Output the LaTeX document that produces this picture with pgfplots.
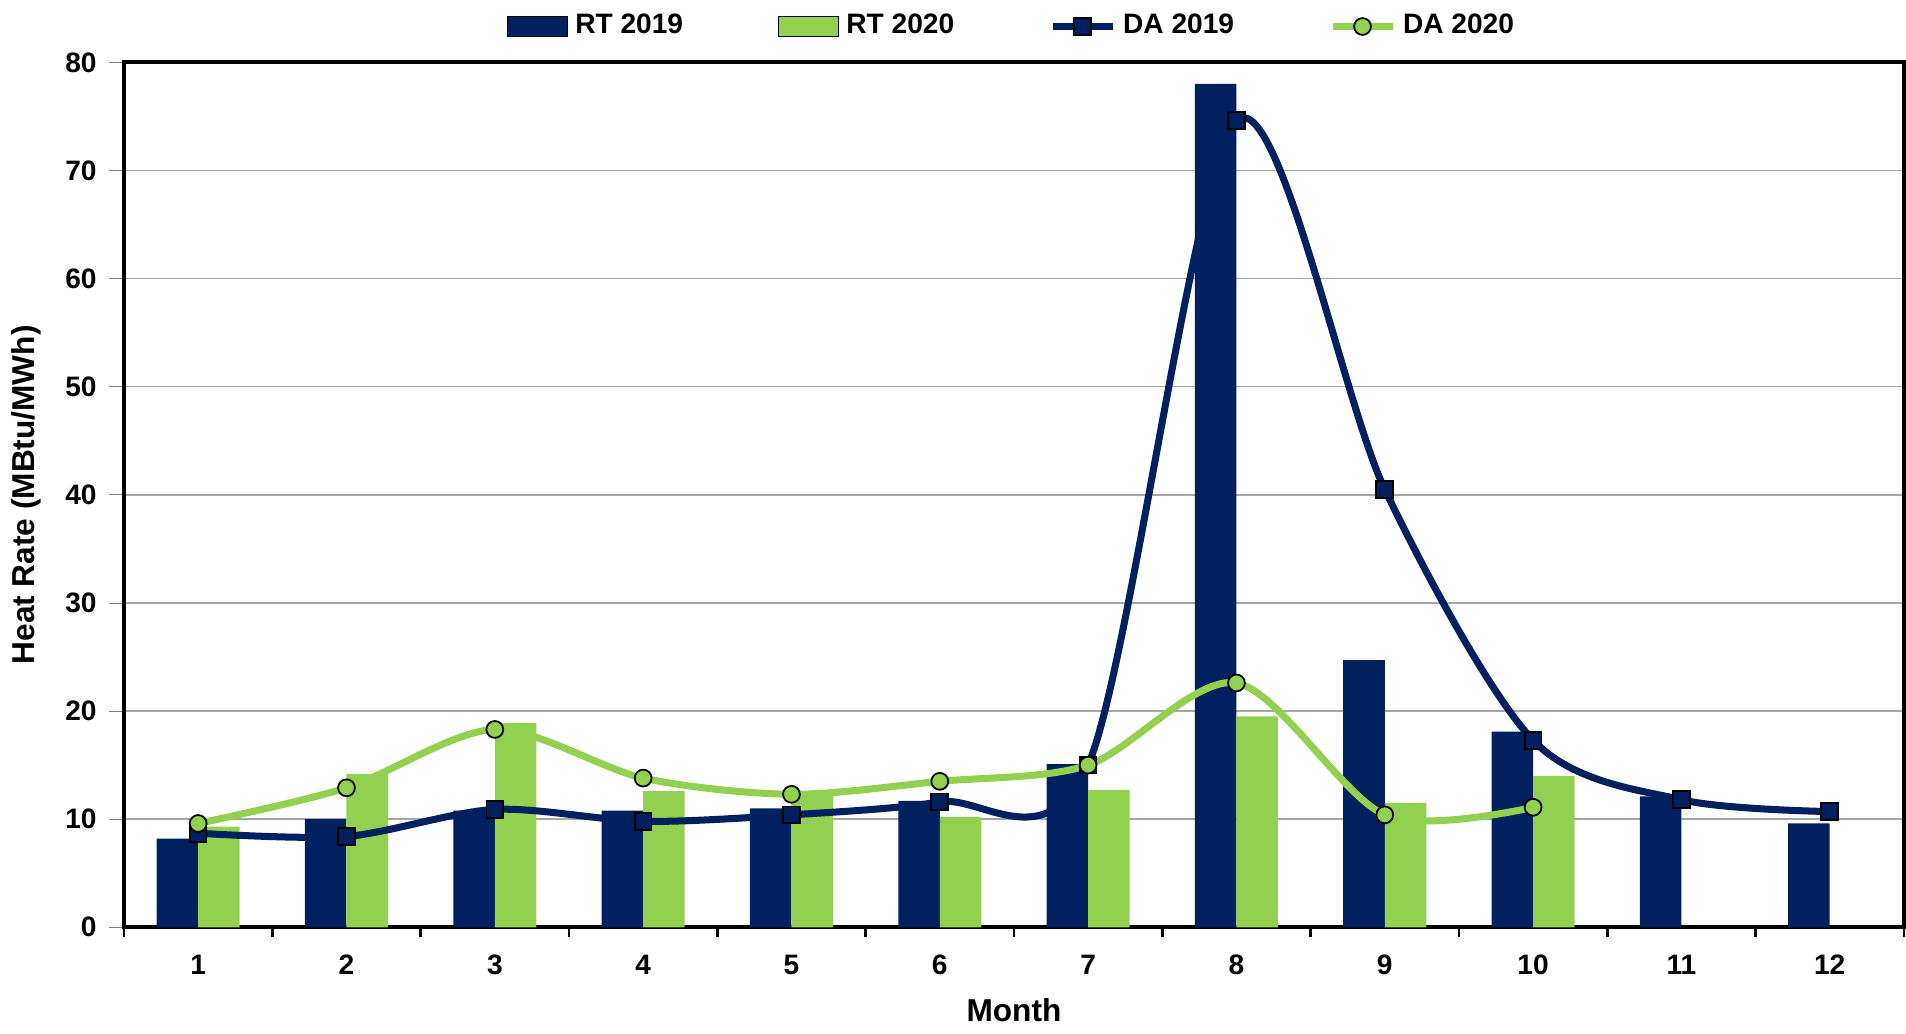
\documentclass[border=0pt]{standalone}
\usepackage{pgfplots}
\pgfplotsset{compat=1.18}
\usepackage{fontspec}
\setmainfont{Liberation Sans}
\definecolor{navy}{RGB}{0,32,96}
\definecolor{lgreen}{RGB}{146,208,80}
\begin{document}
\begin{tikzpicture}
\begin{axis}[
  scale only axis, width=17.8cm, height=8.65cm,
  xmin=0.5, xmax=12.5, ymin=0, ymax=80,
  xtick={1,...,12}, minor xtick={0.5,1.5,...,12.5},
  major x tick style={draw=none},
  minor x tick style={black,thick},
  ytick={0,10,...,80},
  tick align=outside, tick pos=left,
  ymajorgrids, grid style={gray!70,thin},
  axis line style={black,line width=1.2pt},
  ticklabel style={font=\bfseries\footnotesize},
  /pgf/number format/assume math mode=true,
  xlabel={\bfseries Month}, ylabel={\bfseries Heat Rate (MBtu/MWh)},
  label style={font=\bfseries\small},
  xlabel style={yshift=0pt},
  legend style={at={(0.5,1.01)},anchor=south,draw=none,legend columns=4,font=\bfseries\footnotesize,
    /tikz/every even column/.append style={column sep=25pt}},
  legend cell align=left,
]
\addplot[ybar,bar width=0.28,bar shift=-0.14,fill=navy,draw=none,area legend] coordinates {
(1,8.2)(2,10.0)(3,10.8)(4,10.8)(5,11.0)(6,11.7)(7,15.1)(8,78)(9,24.7)(10,18.1)(11,12.1)(12,9.6)};
\addlegendentry{RT 2019}
\addplot[ybar,bar width=0.28,bar shift=0.14,fill=lgreen,draw=none,area legend] coordinates {
(1,9.3)(2,14.2)(3,18.9)(4,12.6)(5,12.3)(6,10.2)(7,12.7)(8,19.5)(9,11.5)(10,14.0)};
\addlegendentry{RT 2020}
\addplot[navy,line width=2pt,smooth,tension=0.5,mark=square*,mark options={fill=navy,draw=black,line width=0.5pt,scale=1.2}] coordinates {
(1,8.7)(2,8.4)(3,10.9)(4,9.8)(5,10.4)(6,11.6)(7,15.0)(8,74.6)(9,40.5)(10,17.3)(11,11.8)(12,10.7)};
\addlegendentry{DA 2019}
\addplot[lgreen,line width=2pt,smooth,tension=0.5,mark=*,mark options={fill=lgreen,draw=black,line width=0.5pt,scale=1.2}] coordinates {
(1,9.6)(2,12.9)(3,18.3)(4,13.8)(5,12.3)(6,13.5)(7,15.0)(8,22.6)(9,10.4)(10,11.1)};
\addlegendentry{DA 2020}
\end{axis}
\end{tikzpicture}
\end{document}
